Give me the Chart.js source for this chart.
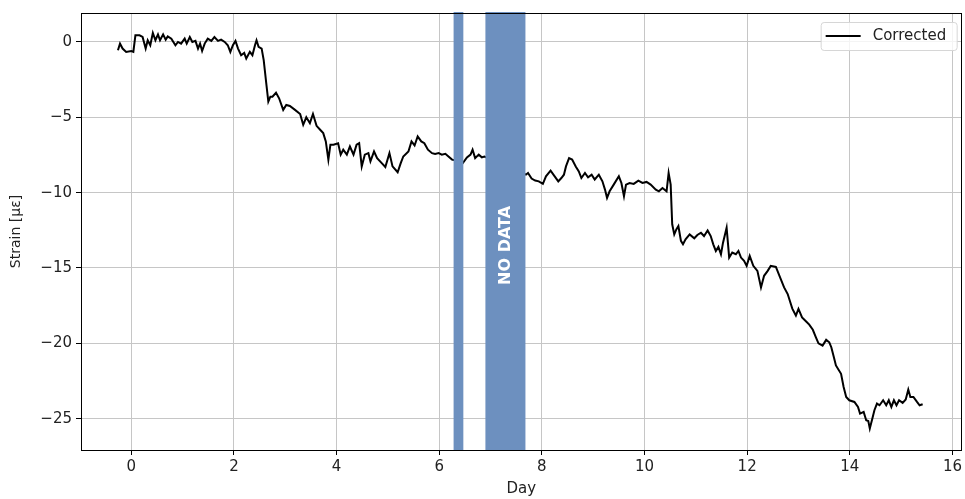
<!DOCTYPE html>
<html>
<head>
<meta charset="utf-8">
<script src="https://cdn.jsdelivr.net/npm/chart.js@4"></script>
<style>
  body { margin: 0; background: #fff; }
  #wrap { width: 965px; height: 499px; }
</style>
</head>
<body>
<div id="wrap"><canvas id="strainChart"></canvas></div>
<script>
// measured series (day, corrected strain in µε)
var days = [-0.26,-0.22,-0.17,-0.10,0.00,0.04,0.08,0.16,0.22,0.28,0.32,0.37,0.42,0.47,0.52,0.56,0.62,0.67,0.71,0.78,
  0.86,0.91,0.97,1.04,1.08,1.14,1.19,1.25,1.30,1.34,1.38,1.43,1.49,1.56,1.62,1.69,1.75,1.82,1.88,1.93,
  1.98,2.03,2.08,2.14,2.20,2.24,2.31,2.36,2.41,2.44,2.48,2.54,2.58,2.63,2.67,2.71,2.75,2.82,2.88,2.96,
  3.02,3.09,3.19,3.29,3.35,3.41,3.48,3.54,3.61,3.68,3.74,3.79,3.84,3.88,3.94,4.03,4.08,4.13,4.20,4.26,
  4.33,4.39,4.44,4.49,4.55,4.62,4.66,4.73,4.79,4.88,4.95,5.03,5.09,5.19,5.25,5.30,5.40,5.46,5.52,5.58,
  5.65,5.71,5.78,5.86,5.92,5.99,6.05,6.12,6.18,6.25,6.36,6.46,6.54,6.61,6.65,6.70,6.77,6.83,6.88,7.30,
  7.69,7.73,7.80,7.87,7.94,8.02,8.08,8.17,8.25,8.32,8.38,8.43,8.47,8.53,8.59,8.66,8.72,8.77,8.84,8.90,
  8.97,9.03,9.11,9.18,9.23,9.27,9.32,9.40,9.50,9.55,9.60,9.64,9.71,9.79,9.88,9.96,10.04,10.12,10.22,10.28,
  10.35,10.43,10.47,10.51,10.54,10.58,10.62,10.66,10.71,10.75,10.80,10.88,10.97,11.03,11.10,11.16,11.23,11.29,11.34,11.39,
  11.44,11.49,11.53,11.60,11.65,11.71,11.78,11.83,11.88,11.94,11.99,12.05,12.12,12.20,12.27,12.33,12.40,12.46,12.56,12.63,
  12.72,12.79,12.88,12.95,13.00,13.07,13.15,13.21,13.28,13.34,13.39,13.47,13.54,13.60,13.64,13.69,13.73,13.83,13.88,13.93,
  13.99,14.09,14.16,14.20,14.27,14.32,14.36,14.39,14.44,14.48,14.53,14.58,14.65,14.71,14.76,14.81,14.86,14.91,14.96,15.03,
  15.09,15.14,15.18,15.24,15.31,15.36,15.42];
var strain = [-0.55,-0.11,-0.44,-0.66,-0.60,-0.66,0.44,0.44,0.33,-0.44,0.11,-0.22,0.60,0.11,0.50,0.11,0.50,0.15,0.37,0.22,
  -0.22,0.00,-0.11,0.22,-0.11,0.33,0.00,0.07,-0.44,-0.11,-0.60,-0.11,0.22,0.07,0.33,0.07,0.15,0.00,-0.22,-0.66,
  -0.22,0.07,-0.44,-0.88,-0.73,-1.10,-0.66,-0.88,-0.22,0.11,-0.33,-0.44,-1.21,-2.75,-3.96,-3.63,-3.63,-3.37,-3.74,-4.51,
  -4.18,-4.25,-4.51,-4.78,-5.50,-5.00,-5.39,-4.78,-5.57,-5.83,-6.05,-6.60,-7.81,-6.82,-6.82,-6.72,-7.48,-7.15,-7.48,-6.94,
  -7.48,-6.82,-6.72,-8.26,-7.48,-7.38,-7.93,-7.27,-7.71,-8.04,-8.30,-7.38,-8.26,-8.65,-8.04,-7.60,-7.27,-6.60,-6.87,-6.27,
  -6.60,-6.72,-7.15,-7.38,-7.44,-7.38,-7.48,-7.42,-7.60,-7.81,-7.90,-8.04,-7.66,-7.48,-7.15,-7.71,-7.48,-7.66,-7.60,-8.20,
  -8.81,-8.70,-9.07,-9.20,-9.25,-9.42,-8.92,-8.54,-8.92,-9.25,-9.03,-8.81,-8.26,-7.71,-7.81,-8.26,-8.59,-9.03,-8.70,-8.98,
  -8.81,-9.13,-8.81,-9.25,-9.80,-10.35,-9.91,-9.47,-8.92,-9.36,-10.24,-9.47,-9.36,-9.42,-9.20,-9.36,-9.29,-9.47,-9.80,-9.91,
  -9.69,-9.91,-8.70,-9.47,-12.10,-12.77,-12.44,-12.22,-13.20,-13.43,-13.10,-12.77,-13.03,-12.81,-12.66,-12.88,-12.51,-12.88,-13.43,-13.87,
  -13.60,-14.09,-13.32,-12.33,-14.31,-13.98,-14.09,-13.87,-14.31,-14.53,-14.86,-14.20,-14.86,-15.19,-16.29,-15.52,-15.19,-14.86,-14.93,-15.52,
  -16.29,-16.73,-17.70,-18.16,-17.72,-18.28,-18.55,-18.76,-19.10,-19.60,-20.00,-20.15,-19.77,-19.93,-20.26,-20.92,-21.47,-22.02,-22.90,-23.56,
  -23.78,-23.89,-24.22,-24.66,-24.55,-25.11,-25.15,-25.65,-24.99,-24.44,-24.00,-24.11,-23.78,-24.11,-23.78,-24.22,-23.78,-24.11,-23.78,-23.95,
  -23.73,-23.07,-23.56,-23.56,-23.89,-24.11,-24.04];

// shaded gaps (day ranges) and the label on the wide one
var gapStart = [6.28, 6.90];
var gapEnd = [6.47, 7.68];
var gapLabel = "NO DATA";
var gapLabelPos = [7.29, -13.5];

var xRange = [-0.98, 16.18];
var yRange = [-27.08, 1.92];

function minusFmt(v) {
    return v < 0 ? '\u2212' + Math.abs(v) : '' + v;
}

var font = 'DejaVu Sans';

var gapsPlugin = {
    id: 'gaps',
    afterDatasetsDraw: function(chart) {
        var ctx = chart.ctx, a = chart.chartArea;
        var xs = chart.scales.x, ys = chart.scales.y;
        ctx.save();
        ctx.fillStyle = '#6d90bf';
        for (var i = 0; i < gapStart.length; i++) {
            var x0 = xs.getPixelForValue(gapStart[i]);
            var x1 = xs.getPixelForValue(gapEnd[i]);
            ctx.fillRect(x0, a.top - 1, x1 - x0, a.bottom - a.top + 1);
        }
        ctx.translate(xs.getPixelForValue(gapLabelPos[0]), ys.getPixelForValue(gapLabelPos[1]));
        ctx.rotate(-Math.PI / 2);
        ctx.fillStyle = '#fff';
        ctx.font = 'bold 16px "' + font + '"';
        ctx.textAlign = 'center';
        ctx.textBaseline = 'middle';
        ctx.fillText(gapLabel, 0, 0);
        ctx.restore();
    },
    afterDraw: function(chart) {
        var ctx = chart.ctx, a = chart.chartArea;
        ctx.save();
        // frame
        ctx.strokeStyle = '#000';
        ctx.lineWidth = 1;
        ctx.strokeRect(Math.round(a.left) + 0.5, Math.round(a.top) + 0.5,
            Math.round(a.right - a.left) - 1, Math.round(a.bottom - a.top));
        // legend box, upper right
        var ds = chart.data.datasets[0];
        var bx = a.right - 141, by = a.top + 9, bw = 136, bh = 28;
        ctx.fillStyle = 'rgba(255,255,255,0.8)';
        ctx.strokeStyle = '#d6d6d6';
        ctx.beginPath();
        ctx.roundRect(bx + 0.5, by + 0.5, bw, bh, 3);
        ctx.fill();
        ctx.stroke();
        ctx.strokeStyle = ds.borderColor;
        ctx.lineWidth = 2;
        ctx.beginPath();
        ctx.moveTo(bx + 5, by + 14);
        ctx.lineTo(bx + 40, by + 14);
        ctx.stroke();
        ctx.fillStyle = '#222';
        ctx.font = '15px "' + font + '"';
        ctx.textBaseline = 'middle';
        ctx.fillText(ds.label, bx + 52, by + 14.5);
        ctx.restore();
    }
};

var points = days.map(function(d, i) { return {x: d, y: strain[i]}; });

var ctx = document.getElementById('strainChart').getContext('2d');
var strainChart = new Chart(ctx, {
    type: 'line',
    data: {
        datasets: [{
            label: 'Corrected',
            data: points,
            borderColor: '#000',
            borderWidth: 2,
            pointRadius: 0,
            tension: 0,
            fill: false
        }]
    },
    options: {
        responsive: true,
        maintainAspectRatio: false,
        animation: false,
        layout: { padding: { top: 11, right: 3, left: 0, bottom: 0 } },
        plugins: { legend: { display: false }, tooltip: { enabled: false } },
        scales: {
            x: {
                type: 'linear',
                min: xRange[0],
                max: xRange[1],
                afterFit: function(s) { s.height = 49; },
                ticks: {
                    stepSize: 2, includeBounds: false, padding: 3,
                    color: '#222', font: { family: font, size: 15 },
                    maxRotation: 0, callback: minusFmt
                },
                grid: { color: '#c6c6c6', tickColor: '#000', tickLength: 5, lineWidth: 1 },
                border: { display: false },
                title: { display: true, text: 'Day', color: '#222',
                    font: { family: font, size: 15 }, padding: { top: 0, bottom: 1 } }
            },
            y: {
                type: 'linear',
                min: yRange[0],
                max: yRange[1],
                afterFit: function(s) { s.width = 81; },
                ticks: {
                    stepSize: 5, includeBounds: false, padding: 4,
                    color: '#222', font: { family: font, size: 15 },
                    callback: minusFmt
                },
                grid: { color: '#c6c6c6', tickColor: '#000', tickLength: 5, lineWidth: 1 },
                border: { display: false },
                title: { display: true, text: 'Strain [\u03bc\u03b5]', color: '#222',
                    font: { family: font, size: 14 }, padding: { top: 8, bottom: 0 } }
            }
        }
    },
    plugins: [gapsPlugin]
});
</script>
</body>
</html>
